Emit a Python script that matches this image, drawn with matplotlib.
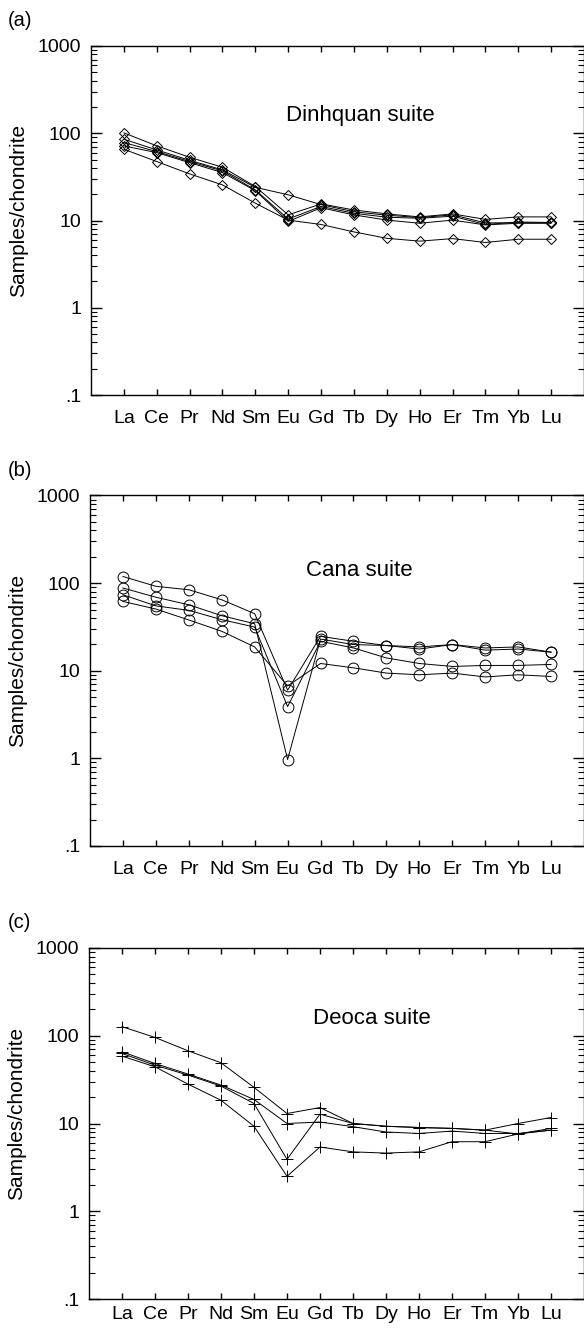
import numpy as np
import matplotlib
matplotlib.use("Agg")
import matplotlib.pyplot as plt
from matplotlib.ticker import LogLocator, NullFormatter, NullLocator, FixedLocator
from matplotlib.transforms import ScaledTranslation

plt.rcParams['font.family'] = ['Liberation Sans', 'DejaVu Sans']

# ---- data (chondrite-normalised REE) ----
elements = ['La', 'Ce', 'Pr', 'Nd', 'Sm', 'Eu', 'Gd', 'Tb', 'Dy', 'Ho', 'Er', 'Tm', 'Yb', 'Lu']

dinhquan = [
    [101, 71.7, 53, 40.8, 24.5, 11.6, 15.5, 13.2, 11.9, 11.0, 11.9, 10.3, 11.0, 11.0],
    [85.4, 64.4, 49, 38, 24.0, 19.7, 15.2, 12.6, 11.5, 10.8, 11.6, 9.4, 9.4, 9.4],
    [78.2, 61.7, 47.4, 37, 22.4, 10.4, 14.5, 12.1, 10.9, 10.6, 11.2, 9.0, 9.6, 9.5],
    [71.6, 60, 46, 35.4, 22.0, 9.75, 14.0, 11.6, 10.1, 9.3, 10.1, 8.9, 9.3, 9.3],
    [65.6, 47.4, 34.2, 25.6, 15.8, 10.1, 9.0, 7.4, 6.25, 5.8, 6.2, 5.6, 6.1, 6.1],
]

cana = [
    [119, 92, 84, 64.6, 44.8, 6.0, 24.7, 21.7, 19.4, 18.7, 19.9, 18.2, 18.7, 16.3],
    [88, 69, 56.6, 42.5, 34.4, 0.97, 23, 19.9, 19.4, 17.7, 19.9, 17.2, 17.7, 16.3],
    [73.6, 55, 48.9, 38.3, 31.5, 3.9, 21.7, 18.2, 14.0, 12.1, 11.2, 11.5, 11.5, 11.8],
    [61.8, 50.6, 38, 28.2, 18.7, 6.7, 12.1, 10.8, 9.4, 9.0, 9.4, 8.5, 9.0, 8.6],
]

deoca = [
    [127, 95.7, 67.4, 49.2, 25.8, 13.0, 15.2, 10.0, 9.3, 9.0, 8.8, 8.4, 10.0, 11.7],
    [65.6, 48.3, 36.6, 27.4, 18.8, 10.0, 10.4, 9.2, 8.0, 7.7, 8.2, 7.7, 7.7, 8.4],
    [62.8, 46.2, 35.6, 26.7, 16.9, 3.9, 12.8, 10.0, 9.3, 9.0, 8.8, 8.4, 7.6, 8.8],
    [58.6, 44.3, 28.1, 18.4, 9.3, 2.5, 5.4, 4.75, 4.6, 4.75, 6.2, 6.2, 7.6, 8.4],
]

ytick_vals = [0.1, 1, 10, 100, 1000]
ytick_labels = ['.1', '1', '10', '100', '1000']

W, H = 584, 1329
fig = plt.figure(figsize=(W / 100, H / 100), dpi=100)

def make_axes(left, right, top, bottom):
    return fig.add_axes([left / W, 1 - bottom / H, (right - left) / W, (bottom - top) / H])

panels = [
    # (box px, data, marker, ms, title, title pos, panel label, label y px, x label pad)
    ((91, 584, 46, 395), dinhquan, 'D', 5.6, 'Dinhquan suite', (0.546, 0.80), '(a)', 20, 11),
    ((90, 584, 495.5, 846), cana, 'o', 7.8, 'Cana suite', (0.545, 0.787), '(b)', 470, 11),
    ((89, 584, 948, 1299), deoca, '+', 8.5, 'Deoca suite', (0.571, 0.798), '(c)', 922, 5),
]

x = np.arange(1, len(elements) + 1)

for box, data, mk, ms, title, tpos, plabel, ly, xpad in panels:
    ax = make_axes(*box)
    for s in data:
        ax.plot(x, s, color='black', lw=0.7, marker=mk, ms=ms,
                mfc='none', mec='black', mew=0.7)

    ax.set_yscale('log')
    ax.set_ylim(0.1, 1000)
    ax.set_xlim(0, 15)

    ax.yaxis.set_major_locator(FixedLocator(ytick_vals))
    ax.set_yticklabels(ytick_labels)
    ax.yaxis.set_minor_locator(LogLocator(base=10, subs=np.arange(2, 10)))
    ax.yaxis.set_minor_formatter(NullFormatter())

    ax.set_xticks(x)
    ax.set_xticklabels(elements)
    ax.xaxis.set_minor_locator(NullLocator())
    # labels sit a little to the right of their ticks in the original
    for lab in ax.get_xticklabels():
        lab.set_transform(lab.get_transform() + ScaledTranslation(0.04, 0, fig.dpi_scale_trans))

    ax.tick_params(axis='y', which='major', direction='in', length=8, width=1,
                   left=True, right=True, pad=7, labelsize=14)
    ax.tick_params(axis='y', which='minor', direction='in', length=4, width=0.8,
                   left=True, right=True)
    ax.tick_params(axis='x', which='major', direction='in', length=4.3, width=1,
                   top=True, bottom=True, pad=xpad, labelsize=14)

    for sp in ax.spines.values():
        sp.set_linewidth(1.0)

    ax.set_ylabel('Samples/chondrite', fontsize=15)
    ax.yaxis.set_label_coords(-0.128, 0.53)

    ax.text(tpos[0], tpos[1], title, transform=ax.transAxes, fontsize=16,
            ha='center', va='center')

    fig.text(8 / W, 1 - ly / H, plabel, fontsize=14.5, ha='left', va='center')

fig.savefig('out.png', dpi=100)
